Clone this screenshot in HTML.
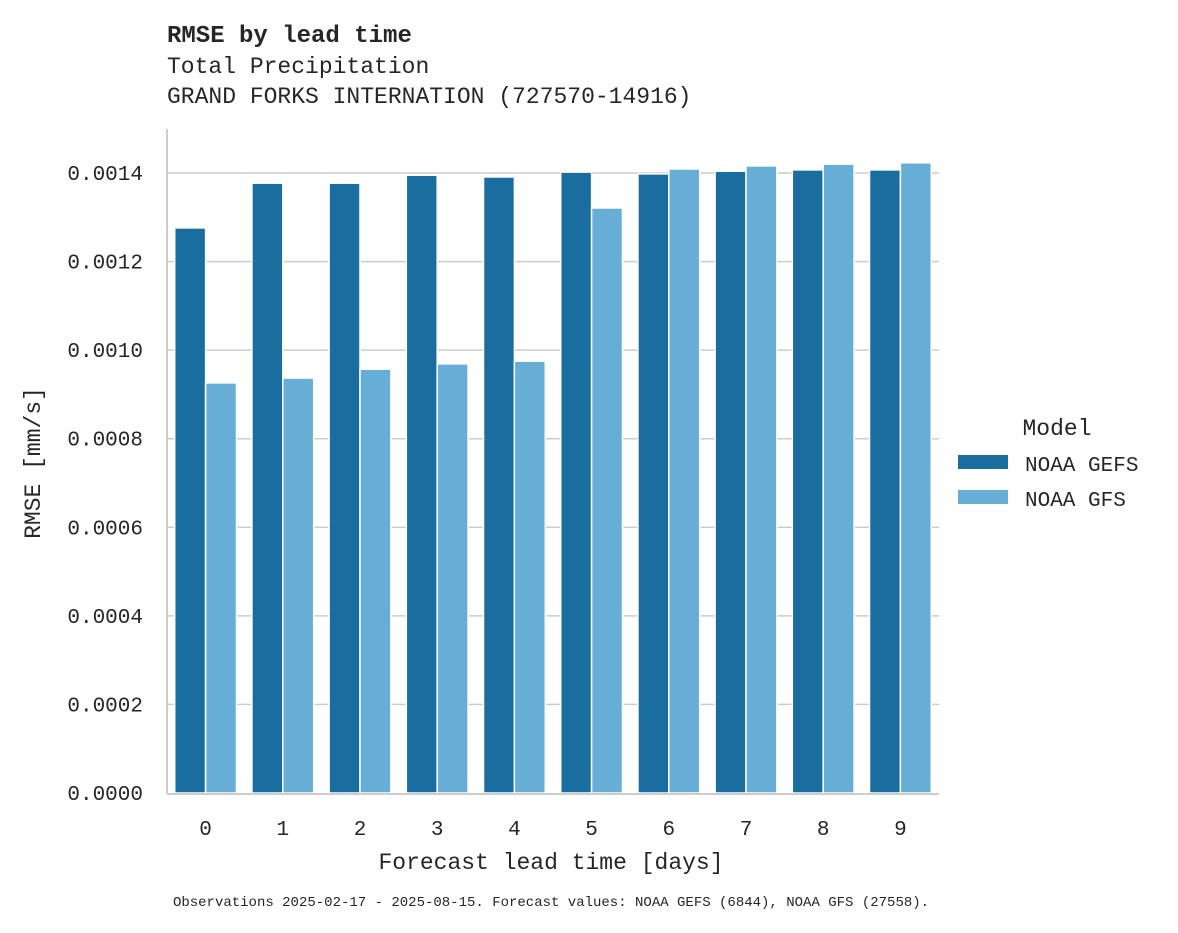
<!DOCTYPE html>
<html><head><meta charset="utf-8"><style>
body{margin:0;background:#fff;}
svg text{font-family:"Liberation Mono","DejaVu Sans Mono",monospace;fill:#262626;}
</style></head><body>
<svg id="chart" width="1178" height="928" viewBox="0 0 1178 928">
<text x="167" y="42" font-size="24" font-weight="bold" font-family="Liberation Sans, sans-serif">RMSE by lead time</text>
<text x="167" y="73" font-size="23">Total Precipitation</text>
<text x="167" y="103" font-size="23">GRAND FORKS INTERNATION (727570-14916)</text>
<g id="grid"></g>
<g id="bars"></g>
<g id="axes"></g>
<text x="551" y="869" font-size="23" text-anchor="middle">Forecast lead time [days]</text>
<text transform="translate(40,463) rotate(-90)" font-size="23" text-anchor="middle">RMSE [mm/s]</text>
<g>
<text x="1057" y="435" font-size="23" text-anchor="middle">Model</text>
<rect x="958" y="455" width="50" height="14" fill="#1a6e9f"/>
<text x="1025" y="471" font-size="21">NOAA GEFS</text>
<rect x="958" y="490" width="50" height="14" fill="#67aed6"/>
<text x="1025" y="506" font-size="21">NOAA GFS</text>
</g>
<text x="551" y="906" font-size="14" text-anchor="middle">Observations 2025-02-17 - 2025-08-15. Forecast values: NOAA GEFS (6844), NOAA GFS (27558).</text>
</svg>
<script>
const categories=["0","1","2","3","4","5","6","7","8","9"];
const gefsValues=[0.001276,0.001377,0.001377,0.001395,0.001391,0.001402,0.001398,0.001404,0.001407,0.001407];
const gfsValues=[0.000926,0.000937,0.000957,0.000969,0.000975,0.001321,0.001409,0.001416,0.00142,0.001423];
const yTicks=[0,0.0002,0.0004,0.0006,0.0008,0.001,0.0012,0.0014];
const yTickLabels=["0.0000","0.0002","0.0004","0.0006","0.0008","0.0010","0.0012","0.0014"];
const NS="http://www.w3.org/2000/svg";
const x0=167,x1=939,y0=793,yTop=173,vTop=0.0014;
const bw=(x1-x0)/categories.length;
function y(v){return y0-(v/vTop)*(y0-yTop);}
function xc(i){return x0+bw*(i+0.5);}
function mk(tag,attrs,parent){const e=document.createElementNS(NS,tag);for(const k in attrs)e.setAttribute(k,attrs[k]);parent.appendChild(e);return e;}
const grid=document.getElementById('grid'),bars=document.getElementById('bars'),axes=document.getElementById('axes');
yTicks.forEach((t,i)=>{
  if(t>0){const l=mk('line',{x1:x0,x2:x1,y1:y(t),y2:y(t),stroke:'#cccccc','stroke-width':1.5},grid);
  
  }
  const tx=mk('text',{x:143,y:y(t)+7,'font-size':21,'text-anchor':'end'},axes);
  tx.textContent=yTickLabels[i];
  
  
});
const half=bw*0.4;
categories.forEach((c,i)=>{
  const cx=xc(i);
  const a=mk('rect',{x:cx-half,y:y(gefsValues[i]),width:half,height:y0-y(gefsValues[i]),fill:'#1a6e9f',stroke:'#fff','stroke-width':1.5},bars);
  
  
  const b=mk('rect',{x:cx,y:y(gfsValues[i]),width:half,height:y0-y(gfsValues[i]),fill:'#67aed6',stroke:'#fff','stroke-width':1.5},bars);
  
  
  const t=mk('text',{x:cx,y:835,'font-size':21,'text-anchor':'middle'},axes);
  t.textContent=c;
  
  
});
const la=mk('line',{x1:x0,x2:x0,y1:129,y2:y0+1,stroke:'#cccccc','stroke-width':2},axes);


const lb=mk('line',{x1:x0,x2:x1,y1:y0+1,y2:y0+1,stroke:'#cccccc','stroke-width':2},axes);


</script>
</body></html>
